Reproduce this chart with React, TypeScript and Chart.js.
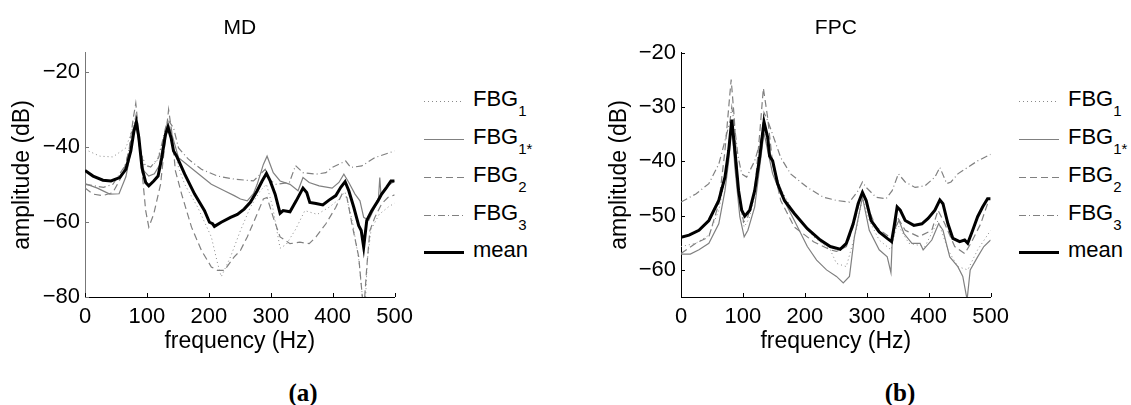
import React, { useEffect, useRef } from 'react';
import { Chart, registerables } from 'chart.js';

Chart.register(...registerables);

// ---------- Panel (a): MD ----------
const mdFbg1Freq = [0,24,45,66,79,83,90,98,106,116,127,134,143,151,161,182,204,214,220,235,251,267,283,293,303,315,325,340,355,375,395,410,420,432,442,448,452,456,462,475,490,500];
const mdFbg1Amp = [-40.7,-42.5,-42.7,-40.3,-34.1,-32.3,-41.1,-45.1,-45.5,-43.8,-37.6,-33.7,-40,-45.5,-50,-56.1,-64,-71,-74.6,-69.3,-62.3,-56.1,-51.7,-50,-56,-67,-66,-62,-57,-58,-56,-54,-52,-60,-70,-80,-84,-70,-62,-58,-56,-55];

const mdFbg1sFreq = [0,20,40,55,66,71,77,82,86,90,95,103,112,120,127,134,140,151,177,204,225,241,251,262,272,278,288,294,304,315,331,344,352,362,378,399,410,418,426,436,444,450,458,468,474,476,478,489,500];
const mdFbg1sAmp = [-49.8,-51,-52.6,-52.5,-48,-43.8,-38,-33.2,-38,-41,-46.4,-47.8,-47.2,-45,-38,-33.7,-36.5,-42.9,-46.4,-50,-51.7,-53,-53.9,-54.4,-52.5,-50,-44.7,-42.5,-46.9,-49.1,-50,-51.7,-48.2,-49.5,-50.4,-51,-49.5,-47.3,-49.5,-52.6,-54.4,-58.8,-59.6,-56.1,-53.5,-48.2,-53,-50.4,-49.1];

const mdFbg2Freq = [0,13,29,45,61,71,78,82,87,93,98,103,111,122,130,135,140,146,156,172,188,204,214,225,241,251,262,278,288,294,304,315,331,347,362,373,389,405,415,423,431,442,450,455,460,468,479,489,500];
const mdFbg2Amp = [-51,-52.6,-53,-52.2,-47.3,-41.1,-32.3,-28.4,-36.7,-48.2,-57,-61.4,-57.9,-50,-37.6,-30.1,-35.9,-46.4,-52.6,-61.4,-67.6,-72,-72.9,-72.9,-69.3,-67.6,-64,-57.9,-53.9,-53.5,-58.8,-64,-65.8,-65.4,-65.8,-64,-60.5,-56.1,-52.6,-53.5,-60.5,-69.3,-84,-72,-62.3,-58.8,-55.2,-53.5,-52.8];

const mdFbg3Freq = [0,30,45,66,77,82,87,95,106,119,130,134,143,151,167,188,214,241,272,291,299,309,330,340,352,373,389,399,421,429,447,468,500];
const mdFbg3Amp = [-50,-50.8,-50,-44.7,-35.9,-31.9,-39.4,-44.7,-45.4,-42.9,-35,-32.8,-35,-40.3,-43.3,-46,-47.8,-48.6,-49.1,-46,-49,-50,-49.5,-45,-46.9,-47.3,-46.9,-45.5,-43.8,-45.5,-45.1,-42.9,-41.1];

const mdMeanFreq = [0,13,29,42,56,66,74,79,83,87,92,98,103,111,118,124,130,134,139,143,148,161,177,193,201,206,209,220,235,246,257,267,278,286,293,299,307,315,320,331,341,352,358,363,373,384,394,405,413,420,426,434,442,446,450,455,463,473,479,487,494,500];
const mdMeanAmp = [-46.3,-47.8,-48.9,-49.1,-48.2,-46,-41.1,-35.9,-33.4,-37.6,-45.6,-49.5,-50.4,-49.1,-47.8,-42.9,-36.7,-34.8,-37.6,-41.1,-42.5,-47.3,-52.6,-57,-60.1,-60.5,-61.2,-60.1,-58.8,-58,-56.6,-54.8,-51.7,-49.1,-47.1,-49.1,-52.6,-57.7,-57,-57.3,-54.4,-51,-52.2,-54.8,-55.1,-55.5,-54.2,-53,-50.8,-49.3,-51.7,-56.1,-61,-62.3,-66.7,-59.6,-57,-54.4,-52.6,-50.8,-49.1,-49.1];

// ---------- Panel (b): FPC ----------
const fpcFbg1Freq = [0,24,45,61,71,78,82,87,95,102,110,120,128,134,140,150,161,183,214,241,251,267,283,293,304,320,339,349,368,394,415,431,447,463,479,500];
const fpcFbg1Amp = [-55.7,-55.1,-53.6,-49,-43,-36,-33,-39,-48,-52.1,-50.5,-46,-39,-34,-37,-41,-45,-49.6,-53.9,-56.3,-58.8,-59.4,-52.7,-46.6,-50.9,-54.5,-56.3,-51.5,-55.1,-55.7,-50.9,-56.3,-59.4,-60,-56.3,-52.7];

const fpcFbg1sFreq = [0,15,29,45,61,71,77,82,87,95,102,108,119,127,134,140,148,161,183,204,219,235,251,262,272,280,293,304,320,333,339,341,344,352,360,373,386,391,405,416,423,434,447,455,462,467,479,489,500];
const fpcFbg1sAmp = [-57.1,-57.1,-56.3,-55.1,-51.5,-45.4,-39.9,-33.2,-41.1,-50.2,-53.9,-52.7,-48.4,-41.1,-34.7,-38,-42.3,-46,-50.9,-55.7,-58.2,-60,-61.2,-62.4,-61.2,-53.9,-46.6,-52.7,-56.3,-57.6,-60.5,-55,-52.7,-50.9,-53.3,-55.1,-55.1,-56.3,-54.5,-51.5,-52.7,-57.6,-59.4,-61.2,-65.5,-60,-57.6,-55.7,-54.5];

const fpcFbg2Freq = [0,24,45,61,71,77,81,86,92,101,108,119,127,133,140,148,161,183,214,241,251,267,278,293,299,315,336,341,349,362,384,405,415,426,442,458,468,484,495,500];
const fpcFbg2Amp = [-57,-55.1,-53.9,-47.8,-38,-30.1,-24.9,-32,-44.1,-51.2,-50.2,-45.4,-35,-26.5,-32,-40.5,-47.2,-52.1,-54.8,-56.3,-56.6,-55.7,-52.1,-45.4,-47.8,-52.1,-53.9,-55.1,-50.2,-52.7,-53.9,-52.7,-49,-51.5,-55.7,-57,-55.1,-51.5,-47.8,-47.5];

const fpcFbg3Freq = [0,24,45,61,71,79,82,86,92,98,106,119,130,134,140,146,161,177,204,230,251,272,286,293,299,315,331,341,351,362,378,394,410,418,429,436,447,463,479,500];
const fpcFbg3Amp = [-47.5,-46,-44.1,-40.5,-36.2,-32.6,-30,-33,-39,-42.3,-42.9,-39.9,-35.6,-31,-32.5,-34.4,-39.3,-42.3,-44.8,-46.6,-47.2,-47.5,-45.4,-43.8,-44.8,-46.6,-46.9,-45.4,-42.3,-43.8,-44.8,-44.5,-42.9,-41.1,-44.1,-43.8,-42.3,-41.1,-39.9,-38.7];

const fpcMeanFreq = [0,13,29,45,61,71,77,82,87,93,98,103,111,119,127,134,140,143,148,156,167,183,204,225,241,251,257,267,278,286,293,299,307,320,333,340,344,349,354,362,376,389,399,410,418,423,431,439,450,458,463,471,479,487,495,500];
const fpcMeanAmp = [-54,-53.6,-52.7,-50.9,-47.2,-42.9,-38,-32.3,-38,-45.4,-49,-50.1,-49,-45.4,-39.3,-32.7,-35.6,-39,-39.9,-44.1,-47.2,-49.6,-52.4,-54.5,-55.7,-56,-56.2,-55.1,-51.5,-47.8,-45.7,-47.2,-50.9,-53,-54.2,-54.8,-52.1,-48.4,-49,-50.9,-51.8,-51.5,-50.5,-49,-47.1,-47.8,-51.5,-54.2,-54.8,-54.5,-55.1,-52.7,-50.2,-48.4,-46.9,-46.9];

// ---------- labels ----------
const seriesNames = ['FBG1', 'FBG1*', 'FBG2', 'FBG3', 'mean'];
const legendMain = ['FBG', 'FBG', 'FBG', 'FBG', 'mean'];
const legendSub = ['1', '1*', '2', '3', ''];
const panelTitles = ['MD', 'FPC'];
const panelCaptions = ['(a)', '(b)'];
const xTitle = 'frequency (Hz)';
const yTitle = 'amplitude (dB)';

const FONT = 'Liberation Sans, Arial, Helvetica, sans-serif';
const GRAY = '#808080';

const lineStyles = [
  { color: '#8a8a8a', width: 1, dash: [1, 3] },
  { color: GRAY, width: 1.2, dash: [] as number[] },
  { color: GRAY, width: 1.2, dash: [7, 4] },
  { color: GRAY, width: 1.2, dash: [7, 3, 1, 3] },
  { color: '#000000', width: 3, dash: [] as number[] },
];

const zip = (f: number[], a: number[]) => f.map((x, i) => ({ x, y: a[i] }));

const innerTicks = {
  id: 'innerTicks',
  afterDatasetsDraw(chart: any, _args: any, opts: any) {
    const { ctx, chartArea, scales } = chart;
    ctx.save();
    ctx.lineWidth = 1;
    const xs = scales.x;
    ctx.strokeStyle = '#000';
    xs.ticks.forEach((t: any) => {
      const px = Math.round(xs.getPixelForValue(t.value)) + 0.5;
      ctx.beginPath();
      ctx.moveTo(px, chartArea.bottom);
      ctx.lineTo(px, chartArea.bottom - 4);
      ctx.stroke();
    });
    const ys = scales.y;
    ctx.strokeStyle = opts.yColor || '#000';
    ys.ticks.forEach((t: any) => {
      const py = Math.round(ys.getPixelForValue(t.value)) + 0.5;
      ctx.beginPath();
      ctx.moveTo(chartArea.left, py);
      ctx.lineTo(chartArea.left + 4, py);
      ctx.stroke();
    });
    ctx.restore();
  },
};

type PanelProps = {
  left: number;
  width: number;
  yAxisWidth: number;
  title: string;
  yMin: number;
  yMax: number;
  yStep: number;
  yBorder: string;
  data: { f: number[]; a: number[] }[];
};

function Panel(p: PanelProps) {
  const ref = useRef<HTMLCanvasElement>(null);
  useEffect(() => {
    const datasets = p.data.map((s, i) => ({
      label: seriesNames[i],
      data: zip(s.f, s.a),
      borderColor: lineStyles[i].color,
      borderWidth: lineStyles[i].width,
      borderDash: lineStyles[i].dash,
      pointRadius: 0,
      tension: 0,
      fill: false,
      order: i === 4 ? 0 : 5 - i,
    }));
    const chart = new Chart(ref.current as HTMLCanvasElement, {
      type: 'line',
      data: { datasets },
      plugins: [innerTicks],
      options: {
        animation: false,
        responsive: false,
        devicePixelRatio: 1,
        layout: { padding: { top: 0, right: 20, bottom: 0, left: 0 } },
        plugins: {
          legend: { display: false },
          tooltip: { enabled: false },
          title: {
            display: true,
            text: p.title,
            fullSize: false,
            color: '#000',
            font: { family: FONT, size: 21, weight: 'normal' },
            padding: { top: 16, bottom: 11.7 },
          },
          innerTicks: { yColor: p.yBorder },
        } as any,
        scales: {
          x: {
            type: 'linear',
            min: 0,
            max: 500,
            afterFit: (s: any) => { s.height = 63; },
            grid: { display: false, drawTicks: false },
            border: { display: true, color: '#000', width: 1 },
            ticks: { stepSize: 100, padding: 7, color: '#000', font: { family: FONT, size: 22 }, maxRotation: 0 },
            title: { display: true, text: xTitle, color: '#000', font: { family: FONT, size: 23 }, padding: { top: 0, bottom: 5 } },
          },
          y: {
            type: 'linear',
            min: p.yMin,
            max: p.yMax,
            afterFit: (s: any) => { s.width = p.yAxisWidth; },
            grid: { display: false, drawTicks: false },
            border: { display: true, color: p.yBorder, width: 1 },
            ticks: {
              stepSize: p.yStep,
              includeBounds: false,
              padding: 5,
              color: '#000',
              font: { family: FONT, size: 22 },
              callback: (v: any) => String(v).replace('-', '\u2212'),
            },
            title: { display: true, text: yTitle, color: '#000', font: { family: FONT, size: 23 }, padding: { top: 9, bottom: 0 } },
          },
        },
      } as any,
    });
    return () => chart.destroy();
  }, []);
  return (
    <canvas
      ref={ref}
      width={p.width}
      height={360}
      style={{ position: 'absolute', left: p.left, top: 0, width: p.width, height: 360 }}
    />
  );
}

const legendRows = [101, 139, 177, 215, 252];

function Legend({ lineLeft, textLeft }: { lineLeft: number; textLeft: number }) {
  return (
    <>
      <svg
        width={50}
        height={300}
        style={{ position: 'absolute', left: lineLeft, top: 0, overflow: 'visible' }}
      >
        {lineStyles.map((s, i) => (
          <line
            key={i}
            x1={0}
            x2={40}
            y1={legendRows[i] + 0.5}
            y2={legendRows[i] + 0.5}
            stroke={s.color}
            strokeWidth={s.width}
            strokeDasharray={s.dash.length ? s.dash.join(' ') : undefined}
          />
        ))}
      </svg>
      {legendMain.map((m, i) => (
        <div
          key={i}
          style={{
            position: 'absolute',
            left: textLeft,
            top: legendRows[i] - 13,
            fontFamily: FONT,
            fontSize: 22,
            lineHeight: '22px',
            whiteSpace: 'nowrap',
            color: '#000',
          }}
        >
          {m}
          {legendSub[i] ? (
            <span style={{ fontSize: 15, verticalAlign: '-10px' }}>{legendSub[i]}</span>
          ) : null}
        </div>
      ))}
    </>
  );
}

export default function App() {
  const captionStyle = (cx: number): React.CSSProperties => ({
    position: 'absolute',
    left: cx - 40,
    width: 80,
    top: 380,
    textAlign: 'center',
    fontFamily: 'Liberation Serif, Times New Roman, serif',
    fontWeight: 'bold',
    fontSize: 25,
    lineHeight: '26px',
    color: '#000',
  });
  return (
    <div style={{ position: 'absolute', left: 0, top: 0, width: 1131, height: 405, background: '#fff', overflow: 'hidden' }}>
      <Panel
        left={0}
        width={420}
        yAxisWidth={85}
        title={panelTitles[0]}
        yMin={-80}
        yMax={-15}
        yStep={20}
        yBorder="#777777"
        data={[
          { f: mdFbg1Freq, a: mdFbg1Amp },
          { f: mdFbg1sFreq, a: mdFbg1sAmp },
          { f: mdFbg2Freq, a: mdFbg2Amp },
          { f: mdFbg3Freq, a: mdFbg3Amp },
          { f: mdMeanFreq, a: mdMeanAmp },
        ]}
      />
      <Panel
        left={597}
        width={419}
        yAxisWidth={84}
        title={panelTitles[1]}
        yMin={-65}
        yMax={-20}
        yStep={10}
        yBorder="#000000"
        data={[
          { f: fpcFbg1Freq, a: fpcFbg1Amp },
          { f: fpcFbg1sFreq, a: fpcFbg1sAmp },
          { f: fpcFbg2Freq, a: fpcFbg2Amp },
          { f: fpcFbg3Freq, a: fpcFbg3Amp },
          { f: fpcMeanFreq, a: fpcMeanAmp },
        ]}
      />
      <Legend lineLeft={424} textLeft={473} />
      <Legend lineLeft={1019} textLeft={1068} />
      <div style={captionStyle(303)}>{panelCaptions[0]}</div>
      <div style={captionStyle(900)}>{panelCaptions[1]}</div>
    </div>
  );
}
